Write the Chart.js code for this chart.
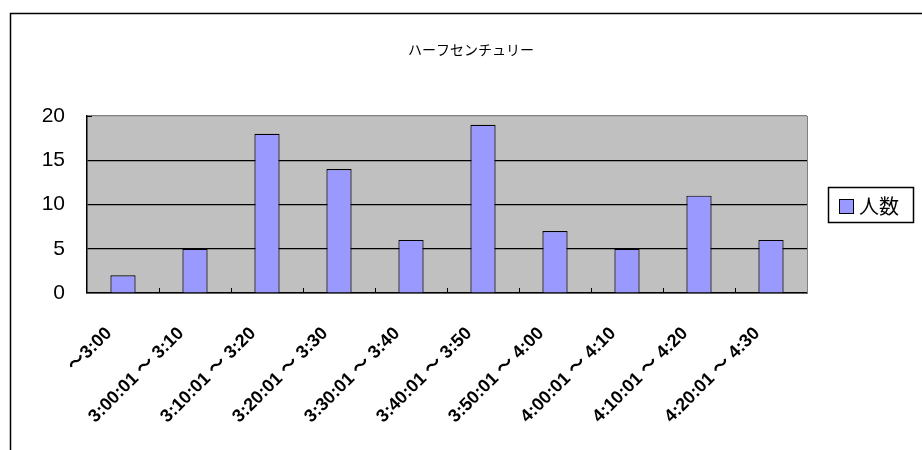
<!DOCTYPE html>
<html><head><meta charset="utf-8">
<script src="https://cdn.jsdelivr.net/npm/chart.js@4/dist/chart.umd.min.js"></script>
<style>html,body{margin:0;padding:0;background:#fff;}#wrap{width:922px;height:450px;position:relative;}</style>
</head><body><div id="wrap"><canvas id="c"></canvas></div>
<script>
const chartTitle = 'ハーフセンチュリー';
const seriesName = '人数';
const categories = ['～3:00','3:00:01 ～ 3:10','3:10:01 ～ 3:20','3:20:01 ～ 3:30','3:30:01 ～ 3:40','3:40:01 ～ 3:50','3:50:01 ～ 4:00','4:00:01 ～ 4:10','4:10:01 ～ 4:20','4:20:01 ～ 4:30'];
const counts = [2, 5, 18, 14, 6, 19, 7, 5, 11, 6];
const yTicks = [0, 5, 10, 15, 20];

const decor = {
  id: 'decor',
  beforeDraw(chart) {
    const ctx = chart.ctx, a = chart.chartArea;
    ctx.save();
    ctx.fillStyle = '#C0C0C0';
    ctx.fillRect(a.left, a.top, a.right - a.left, a.bottom - a.top);
    ctx.strokeStyle = '#000'; ctx.lineWidth = 1.5;
    ctx.beginPath(); ctx.moveTo(10.5, 450); ctx.lineTo(10.5, 13.5); ctx.lineTo(922, 13.5); ctx.stroke();
    ctx.restore();
  },
  afterDatasetsDraw(chart) {
    const ctx = chart.ctx, a = chart.chartArea, xs = chart.scales.x, ys = chart.scales.y;
    ctx.save();
    ctx.strokeStyle = '#808080'; ctx.lineWidth = 1;
    ctx.beginPath(); ctx.moveTo(Math.round(a.right) + 0.5, a.top); ctx.lineTo(Math.round(a.right) + 0.5, a.bottom); ctx.stroke();
    ctx.strokeStyle = '#000';
    const n = categories.length;
    const w = (a.right - a.left) / n;
    for (let i = 1; i < n; i++) {
      const x = Math.round(xs.getPixelForTick(i) - w / 2) + 0.5;
      ctx.beginPath(); ctx.moveTo(x, a.bottom); ctx.lineTo(x, a.bottom - 5); ctx.stroke();
    }
    const yt = Math.round(ys.getPixelForValue(20)) + 0.5;
    ctx.beginPath(); ctx.moveTo(a.left, yt); ctx.lineTo(a.left + 5, yt); ctx.stroke();
    ctx.fillStyle = '#000';
    ctx.font = '14px "Noto Sans CJK JP"';
    ctx.textAlign = 'center'; ctx.textBaseline = 'middle';
    ctx.fillText(chartTitle, 471, 50);
    ctx.fillStyle = '#fff'; ctx.strokeStyle = '#000'; ctx.lineWidth = 1.5;
    ctx.fillRect(828.5, 187.5, 85, 35); ctx.strokeRect(828.5, 187.5, 85, 35);
    const ds = chart.data.datasets[0];
    ctx.fillStyle = ds.backgroundColor; ctx.lineWidth = 1;
    ctx.fillRect(839.5, 199.5, 14, 14); ctx.strokeRect(839.5, 199.5, 14, 14);
    ctx.fillStyle = '#000'; ctx.font = '20px "Noto Sans CJK JP"';
    ctx.textAlign = 'left'; ctx.textBaseline = 'middle';
    ctx.fillText(ds.label, 859, 206);
    ctx.restore();
  }
};

new Chart(document.getElementById('c'), {
  type: 'bar',
  data: {
    labels: categories,
    datasets: [{
      label: seriesName,
      data: counts,
      backgroundColor: '#9999FF',
      borderColor: '#000',
      borderWidth: 1.2,
      barPercentage: 1,
      categoryPercentage: 0.35
    }]
  },
  options: {
    responsive: true,
    maintainAspectRatio: false,
    animation: false,
    devicePixelRatio: 1,
    layout: { padding: { left: 10, top: 116, right: 115, bottom: 0 } },
    plugins: { legend: { display: false }, title: { display: false }, tooltip: { enabled: false } },
    scales: {
      x: {
        offset: true,
        grid: { display: false, drawTicks: false },
        border: { display: true, color: '#000', width: 1.5 },
        ticks: {
          minRotation: 45, maxRotation: 45, autoSkip: false,
          padding: 30, labelOffset: -14,
          color: '#000', font: { family: '"Liberation Sans", "Noto Sans CJK JP"', size: 18, weight: 'bold' }
        },
        afterFit(s) { s.height = 157; }
      },
      y: {
        min: 0, max: 20,
        afterBuildTicks(s) { s.ticks = yTicks.map(v => ({ value: v })); },
        grid: {
          drawTicks: false,
          color: c => (c.tick && c.tick.value === 20) ? '#808080' : '#000',
          lineWidth: 1.2
        },
        border: { display: true, color: '#000', width: 1.5 },
        ticks: {
          padding: 22, color: '#000',
          font: { family: '"Liberation Sans Narrow", "Liberation Sans"', size: 21 }
        },
        afterFit(s) { s.width = 77; }
      }
    }
  },
  plugins: [decor]
});
</script>
</body></html>
